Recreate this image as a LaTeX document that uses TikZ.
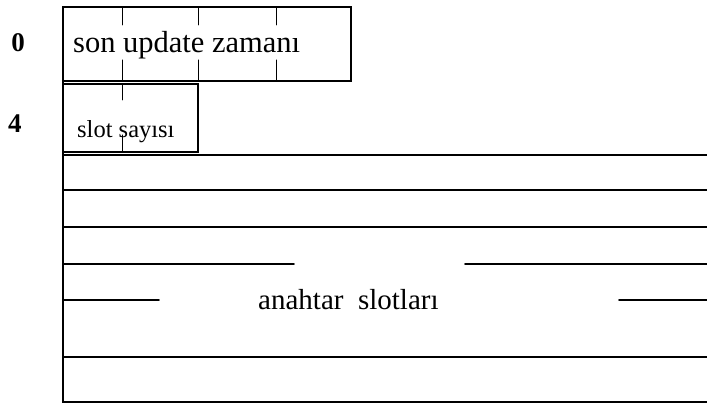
\documentclass[tikz,border=0pt]{standalone}
\usepackage{fontspec}
\setmainfont{Liberation Serif}

\begin{document}
\begin{tikzpicture}[x=1pt, y=-1pt, line cap=round]
            \useasboundingbox (0,0) rectangle (707,403);
            % field box for the update time
            \draw[line width=1.2pt] (63,7) rectangle (351,81);
            \foreach \x in {122,198,276} {
                \draw[line width=1pt] (\x,7) -- (\x,25); % byte tick, top
                \draw[line width=1pt] (\x,60) -- (\x,81); % byte tick, bottom
            }
            \node[anchor=base west, inner sep=0, font=\fontsize{30.5}{36}\selectfont] (zaman) at (73,53) {son update zamanı};
            % field box for the slot count
            \draw[line width=1.2pt] (63,84) rectangle (198,152);
            \draw[line width=1pt] (122,84) -- (122,100);
            \draw[line width=1pt] (122,135) -- (122,152);
            \node[anchor=base west, inner sep=0, font=\fontsize{24.5}{29}\selectfont] (sayi) at (77,138) {slot sayısı};
            % byte offsets
            \node[font=\fontsize{27}{32}\selectfont\bfseries] (ofs0) at (18,43) {0};
            \node[font=\fontsize{27}{32}\selectfont\bfseries] (ofs4) at (15,124) {4};
            % key slot area
            \draw[line width=1.4pt] (63,7) -- (63,402) -- (707,402);
            \foreach \y in {155,190,227,357}
                \draw[line width=1.6pt] (63,\y) -- (707,\y); % slot row
            \draw[line width=1.6pt] (63,264) -- (294,264);
            \draw[line width=1.6pt] (465,264) -- (707,264);
            \draw[line width=1.6pt] (63,300) -- (159,300);
            \draw[line width=1.6pt] (619,300) -- (707,300);
            \node[anchor=base west, inner sep=0, font=\fontsize{29}{34}\selectfont] (slotlar) at (258,310) {anahtar\ \ slotları};
        \end{tikzpicture}
\end{document}
